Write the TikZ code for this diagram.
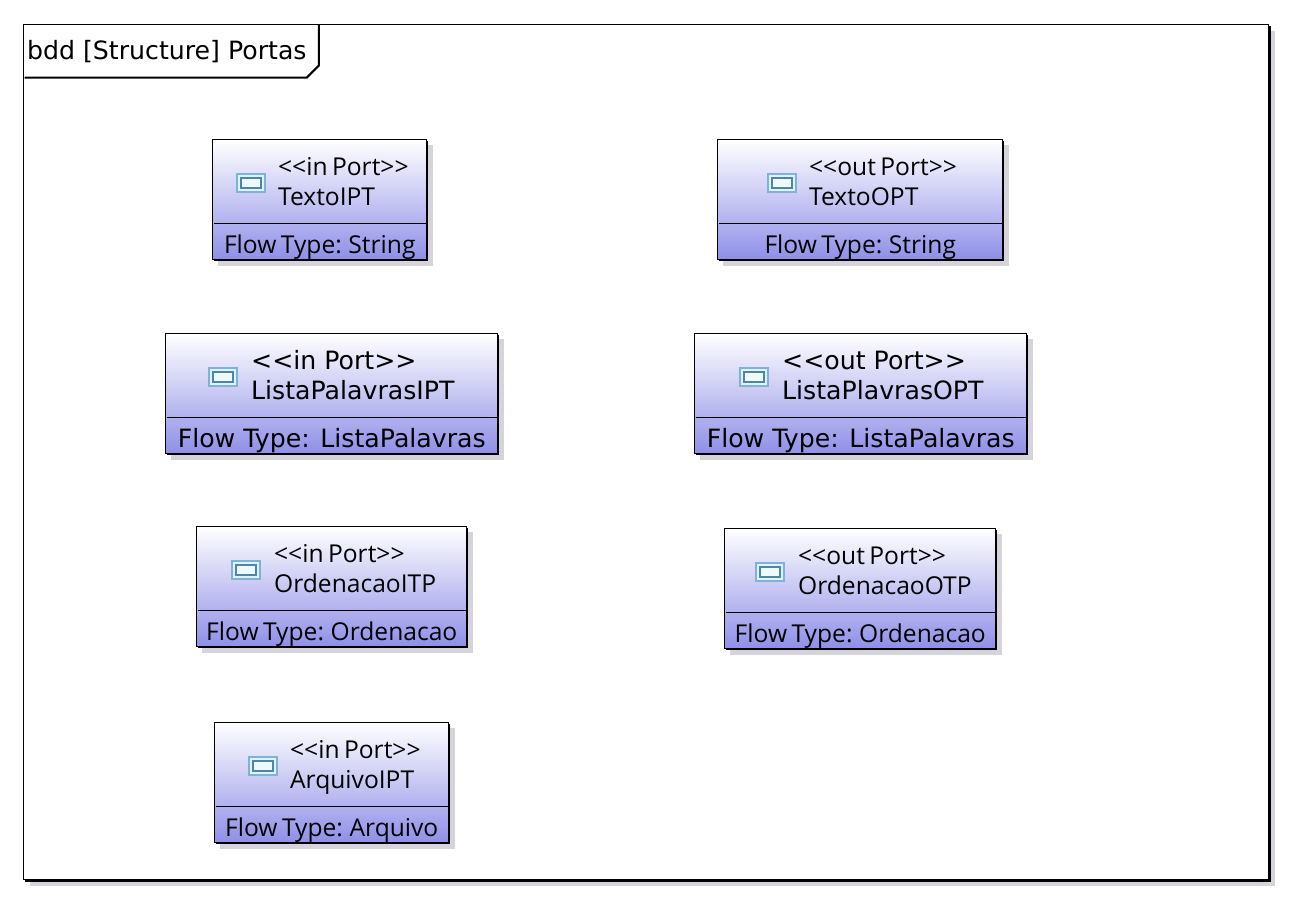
\documentclass[tikz,border=0pt]{standalone}
\usepackage{fontspec}
\setmainfont[WordSpace=0.7]{Open Sans}
\newfontfamily\framefont{DejaVu Sans}
\usetikzlibrary{positioning}
\definecolor{portblue}{HTML}{8F8FE8}
\definecolor{shadowgray}{HTML}{D4D4DA}
\definecolor{iconblue}{HTML}{7FB2D6}
\definecolor{iconteal}{HTML}{4F86A8}
\definecolor{iconpale}{HTML}{DDF3F8}
\tikzset{
  narrowtext/.style={font=\fontsize{12.3pt}{14pt}\selectfont, inner sep=0pt, text=black},
  widetext/.style={font=\framefont\fontsize{12.6pt}{14pt}\selectfont, inner sep=0pt, text=black},
  frametext/.style={font=\framefont\fontsize{12.6pt}{14pt}\selectfont, inner sep=0pt, text=black},
}
\def\makeicon#1{
  \begin{scope}[#1]
    \draw[iconblue, line width=1pt, fill=iconpale] (-14,-9) rectangle (14,9);
    \draw[iconteal, line width=1pt, fill=iconpale!50] (-10,-5) rectangle (10,5);
  \end{scope}
}
% #1 shift, #2 width, #3 icon x, #4 text x, #5 stereotype, #6 name, #7 flow type, #8 text style
\def\makeport#1#2#3#4#5#6#7#8{
  \begin{scope}[shift={#1}]
    \fill[shadowgray] (5,5) rectangle (#2+6,126);
    \fill[black] (1,1) rectangle (#2+1.6,121.6);
    \shade[top color=white, bottom color=portblue] (0,0) rectangle (#2,120);
    \draw[black, line width=0.5pt] (0,0) rectangle (#2,120);
    \draw[black, line width=0.4pt] (1,84) -- (#2,84);
    \makeicon{shift={(#3,43)}}
    \node[#8, anchor=base west] (#6-stereo) at (#4,35.5) {#5};
    \node[#8, anchor=base west] (#6-name) at (#4,65.5) {#6};
    \node[#8, anchor=base] (#6-flow) at (#2/2,113.5) {#7};
  \end{scope}
}
\begin{document}
\begin{tikzpicture}[x=0.5pt,y=-0.5pt]
  \useasboundingbox (0.25,0.4) rectangle (1300.25,910.4);
  \fill[white] (0.25,0.4) rectangle (1300.25,910.4);
  % frame
  \fill[shadowgray] (30,31) rectangle (1275,886);
  \fill[black] (25,26) rectangle (1271,882);
  \fill[white] (24,25) rectangle (1269,880);
  \draw[black, line width=0.5pt] (24,25) rectangle (1269,880);
  \draw[black, line width=1pt] (319,25) -- (319,66) -- (307,78) -- (25,78);
  \node[frametext, anchor=base west] (frametitle) at (27,59.5) {bdd [Structure] Portas};
  % in ports
  \makeport{(213,140)}{214}{38}{65}{<{}<in Port>{}>}{TextoIPT}{Flow Type: String}{narrowtext}
  \makeport{(166,334)}{332}{57}{85}{<{}<in Port>{}>}{ListaPalavrasIPT}{Flow Type: ListaPalavras}{widetext}
  \makeport{(197,527)}{270}{49}{77}{<{}<in Port>{}>}{OrdenacaoITP}{Flow Type: Ordenacao}{narrowtext}
  \makeport{(215,723)}{234}{48}{75}{<{}<in Port>{}>}{ArquivoIPT}{Flow Type: Arquivo}{narrowtext}
  % out ports
  \makeport{(718,140)}{285}{64}{91}{<{}<out Port>{}>}{TextoOPT}{Flow Type: String}{narrowtext}
  \makeport{(695,334)}{332}{59}{87}{<{}<out Port>{}>}{ListaPlavrasOPT}{Flow Type: ListaPalavras}{widetext}
  \makeport{(725,529)}{271}{45}{73}{<{}<out Port>{}>}{OrdenacaoOTP}{Flow Type: Ordenacao}{narrowtext}
\end{tikzpicture}
\end{document}
